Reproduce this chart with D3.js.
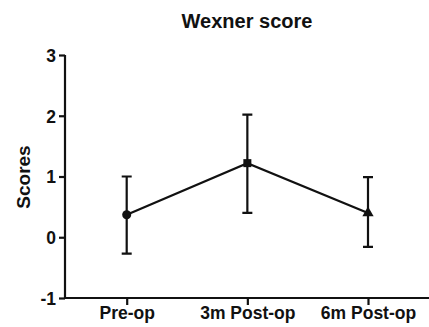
<!DOCTYPE html>
<html><head><meta charset="utf-8">
<script src="https://cdn.jsdelivr.net/npm/d3@7/dist/d3.min.js"></script>
<style>body{margin:0;background:#fff}svg{display:block}text{font-family:"Liberation Sans",Arial,sans-serif;font-weight:bold;fill:#111}</style>
</head><body>
<script>
const categories = ["Pre-op", "3m Post-op", "6m Post-op"];
const means = [0.37, 1.22, 0.40];
const upper = [1.00, 2.02, 0.99];
const lower = [-0.27, 0.40, -0.16];
const yTicks = [-1, 0, 1, 2, 3];
const shapes = ["circle", "square", "triangle"];

const W = 429, H = 327;
const svg = d3.select("body").append("svg").attr("width", W).attr("height", H);
const x = d3.scalePoint().domain(categories).range([126.7, 368]);
const y = d3.scaleLinear().domain([-1, 3]).range([298, 55]);

// y axis
const ya = svg.append("g").attr("transform", "translate(65,0)")
  .call(d3.axisLeft(y).tickValues(yTicks).tickSize(6).tickPadding(3).tickFormat(d => String(d)));
ya.select(".domain").attr("d", `M0,${y(3)}V${y(-1)}`);
// x axis
const xa = svg.append("g").attr("transform", "translate(0,298)")
  .call(d3.axisBottom(x).tickSize(7).tickPadding(2));
xa.select(".domain").attr("d", "M65,0H429");
svg.selectAll(".domain,.tick line").attr("stroke", "#111").attr("stroke-width", 2.2);
svg.selectAll(".tick text").style("font-size", "17.5px").attr("fill", "#111");
ya.selectAll(".tick text").attr("dy", "0.36em");

const data = categories.map((c, i) => ({c, m: means[i], u: upper[i], l: lower[i], s: shapes[i]}));
const g = svg.append("g").attr("stroke", "#111").attr("stroke-width", 2.2);
g.selectAll(".eb").data(data).enter().append("path")
  .attr("fill", "none")
  .attr("d", d => `M${x(d.c)},${y(d.u)}V${y(d.l)}M${x(d.c)-5},${y(d.u)}H${x(d.c)+5}M${x(d.c)-5},${y(d.l)}H${x(d.c)+5}`);
svg.append("path").datum(data)
  .attr("fill", "none").attr("stroke", "#111").attr("stroke-width", 2.2)
  .attr("d", d3.line().x(d => x(d.c)).y(d => y(d.m)));
const sym = {circle: d3.symbolCircle, square: d3.symbolSquare, triangle: d3.symbolTriangle};
svg.selectAll(".pt").data(data).enter().append("path")
  .attr("fill", "#111")
  .attr("transform", d => `translate(${x(d.c)},${y(d.m)})`)
  .attr("d", d => d3.symbol().type(sym[d.s]).size(d.s === "triangle" ? 55 : 64)());

svg.append("text").attr("x", 247).attr("y", 28).attr("text-anchor", "middle")
  .style("font-size", "20px").text("Wexner score");
svg.append("text").attr("transform", "translate(30,177) rotate(-90)").attr("text-anchor", "middle")
  .style("font-size", "19px").text("Scores");
</script>
</body></html>
